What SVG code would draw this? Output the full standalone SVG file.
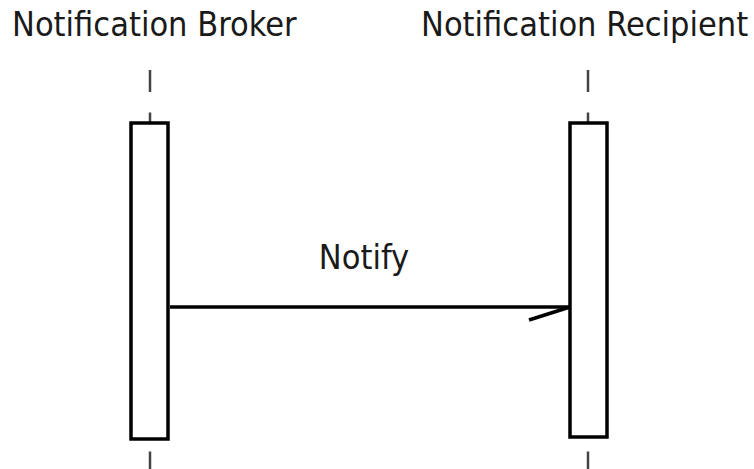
<svg xmlns="http://www.w3.org/2000/svg" width="754" height="469" viewBox="0 0 754 469">
<style>
.lbl{font-family:"DejaVu Sans Condensed","DejaVu Sans",sans-serif;font-stretch:condensed;font-size:34px;fill:#1a1a1a}
.life{stroke:#444;stroke-width:2.5;stroke-dasharray:22 20.4;fill:none}
.act{fill:#fff;stroke:#000;stroke-width:3.5}
.msg{stroke:#000;stroke-width:3.5;fill:none}
</style>
<rect width="754" height="469" fill="#fff"/>
<g id="broker">
<text class="lbl" x="12" y="36">Notification Broker</text>
<line class="life" x1="150" y1="70" x2="150" y2="480"/>
<rect class="act" x="131" y="123" width="37" height="316"/>
</g>
<g id="recipient">
<text class="lbl" x="421" y="36">Notification Recipient</text>
<line class="life" x1="588" y1="70" x2="588" y2="480"/>
<rect class="act" x="570" y="123" width="37" height="314"/>
</g>
<g id="connectors">
<line class="msg" x1="170" y1="307" x2="570" y2="307"/>
<polyline class="msg" points="529,320 570,307"/>
<text class="lbl" x="364" y="269" text-anchor="middle">Notify</text>
</g>
</svg>
